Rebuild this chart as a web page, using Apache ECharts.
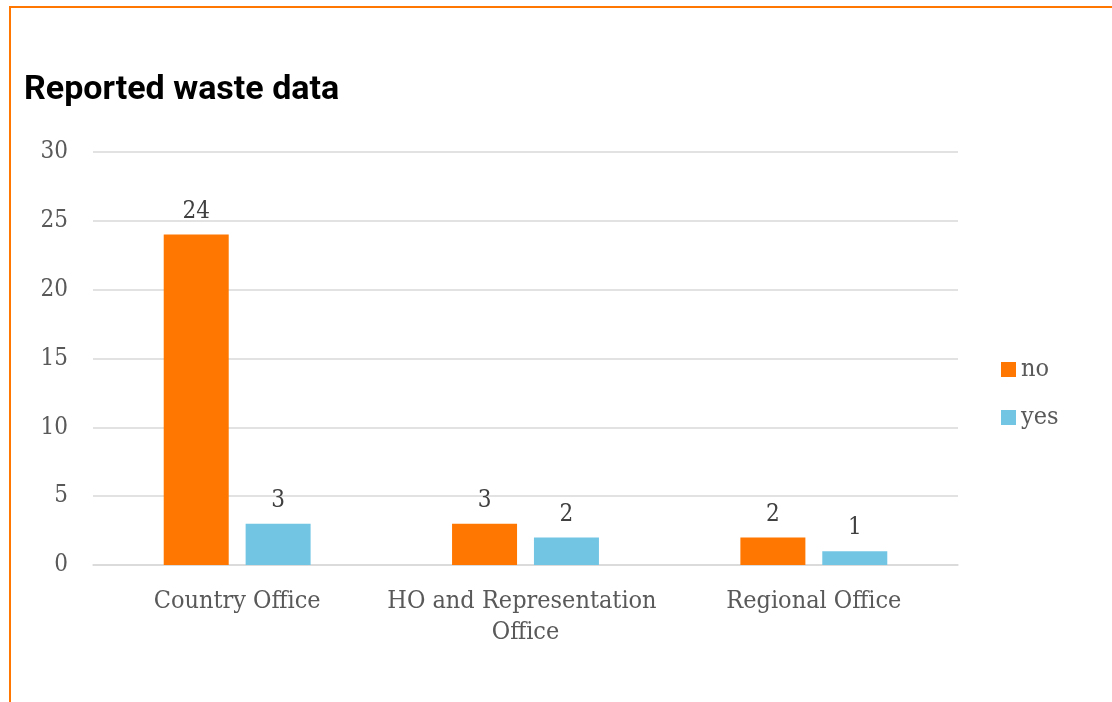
<!DOCTYPE html>
<html>
<head>
<meta charset="utf-8">
<script src="https://cdn.jsdelivr.net/npm/echarts@6/dist/echarts.min.js"></script>
<style>
  html, body { margin: 0; padding: 0; background: #fff; }
  #wrap { position: relative; width: 1112px; height: 702px; overflow: hidden; }
  #frame { position: absolute; left: 9px; top: 6px; width: 1200px; height: 800px;
           border-top: 2px solid #FF7700; border-left: 2px solid #FF7700; box-sizing: border-box; }
  #chart { position: absolute; left: 0; top: 0; width: 1112px; height: 702px; }
</style>
</head>
<body>
<div id="wrap">
  <div id="frame"></div>
  <div id="chart"></div>
</div>
<script>
const titleText = 'Reported waste data';
const categories = ['Country Office', 'HO and Representation Office', 'Regional Office'];
const seriesNames = ['no', 'yes'];
const noValues = [24, 3, 2];
const yesValues = [3, 2, 1];
const yTicks = { min: 0, max: 30, interval: 5 };

const serif = "'DejaVu Serif Condensed', 'DejaVu Serif', serif";
const textColor = '#595959';

const chart = echarts.init(document.getElementById('chart'), null, { renderer: 'canvas' });
chart.setOption({
  backgroundColor: 'transparent',
  animation: false,
  title: {
    text: titleText,
    left: 19, top: 68,
    textStyle: { fontFamily: 'Roboto', fontWeight: 'bold', fontSize: 34, color: '#000' }
  },
  legend: {
    orient: 'vertical',
    left: 1001, top: 357,
    padding: 0,
    itemWidth: 15, itemHeight: 15, itemGap: 23,
    icon: 'rect',
    data: seriesNames,
    textStyle: { fontFamily: serif, fontSize: 25, lineHeight: 25, color: textColor }
  },
  grid: { left: 93, right: 154, top: 152, bottom: 137, containLabel: false },
  xAxis: {
    type: 'category',
    data: categories,
    axisLine: { show: true, lineStyle: { color: '#d9d9d9', width: 1.5 } },
    axisTick: { show: false },
    axisLabel: {
      fontFamily: serif, fontSize: 25, color: textColor, margin: 21, lineHeight: 31,
      width: 280, overflow: 'break', interval: 0
    }
  },
  yAxis: {
    type: 'value',
    min: yTicks.min, max: yTicks.max, interval: yTicks.interval,
    axisLine: { show: false },
    axisTick: { show: false },
    splitLine: { lineStyle: { color: '#d9d9d9', width: 1.5 } },
    axisLabel: { fontFamily: serif, fontSize: 24, color: textColor, margin: 25, padding: [3, 0, 0, 0] }
  },
  series: [
    {
      name: seriesNames[0], type: 'bar', data: noValues,
      barWidth: 65, barGap: '26%',
      itemStyle: { color: '#FF7700' },
      label: { show: true, position: 'top', distance: 11, fontFamily: serif, fontSize: 24, color: '#404040' }
    },
    {
      name: seriesNames[1], type: 'bar', data: yesValues,
      barWidth: 65,
      itemStyle: { color: '#72C6E4' },
      label: { show: true, position: 'top', distance: 11, fontFamily: serif, fontSize: 24, color: '#404040' }
    }
  ]
});
</script>
</body>
</html>
